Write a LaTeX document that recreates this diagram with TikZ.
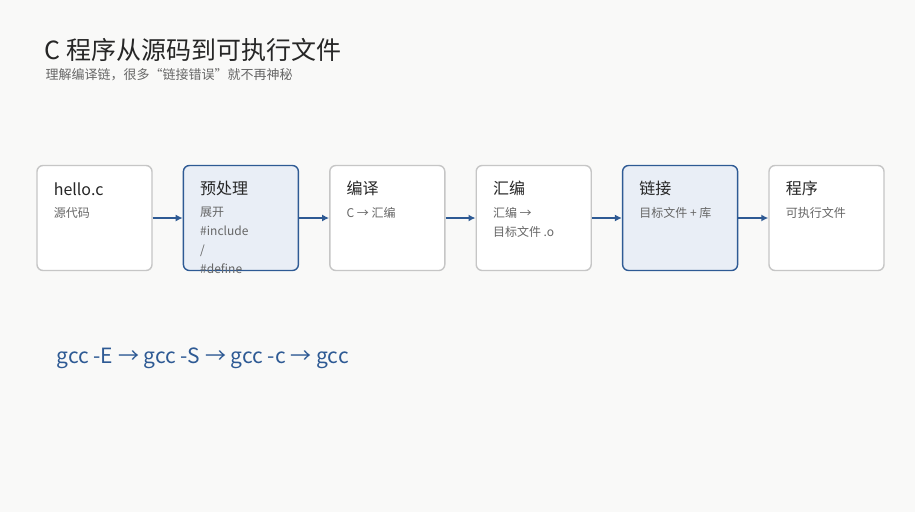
\documentclass[tikz,border=0pt]{standalone}
\usepackage{fontspec}
\setmainfont{Noto Sans CJK SC}
\usepackage{xcolor}
\usetikzlibrary{arrows.meta, positioning}
\definecolor{bgcol}{HTML}{F9F9F8}
\definecolor{linkblue}{HTML}{2E5A94}
\definecolor{hlfill}{HTML}{E9EEF6}
\definecolor{boxline}{HTML}{C6C6C6}
\definecolor{subgray}{HTML}{666666}
\tikzset{
  stage/.style={draw=boxline, line width=1.4pt, fill=white, rounded corners=6pt,
    minimum width=115pt, minimum height=105pt, inner sep=0pt},
  hot/.style={stage, draw=linkblue, fill=hlfill},
  head/.style={anchor=west, font=\fontsize{16}{18}\selectfont, text=black!85},
  note/.style={anchor=north west, font=\fontsize{12}{19}\selectfont, text=subgray, align=left},
  flow/.style={-{Latex[length=7pt,width=7pt]}, line width=2.2pt, draw=linkblue}
}
\begin{document}
\begin{tikzpicture}[x=1pt, y=-1pt]
	\fill[bgcol] (0,0) rectangle (915,512);
	\useasboundingbox (0,0) rectangle (915,512);

	\node[anchor=west, font=\fontsize{25}{28}\selectfont, text=black!85] (title) at (41,50) {C 程序从源码到可执行文件};
	\node[anchor=west, font=\fontsize{13}{15}\selectfont, text=subgray] (sub) at (42,75) {理解编译链，很多“链接错误”就不再神秘};

	% stages
	\node[stage] (s1) at (94.5,218) {};
	\node[hot, right=30pt of s1] (s2) {};
	\node[stage, right=30pt of s2] (s3) {};
	\node[stage, right=30pt of s3] (s4) {};
	\node[hot, right=30pt of s4] (s5) {};
	\node[stage, right=30pt of s5] (s6) {};

	\foreach \s/\h/\n in {s1/hello.c/源代码, s2/预处理/{展开\\\#include\\/\\\#define}, s3/编译/C → 汇编,
	                      s4/汇编/{汇编 →\\目标文件 .o}, s5/链接/目标文件 + 库, s6/程序/可执行文件} {
		\node[head] at ([xshift=14pt, yshift=-24pt]\s.north west) {\h};
		\node[note] at ([xshift=14pt, yshift=-39pt]\s.north west) {\n};
	}

	\foreach \a/\b in {s1/s2, s2/s3, s3/s4, s4/s5, s5/s6}
		\draw[flow] (\a.east) -- (\b.west);

	\node[anchor=west, font=\fontsize{21}{24}\selectfont, text=linkblue] (cmd) at (53,358) {gcc -E → gcc -S → gcc -c → gcc};
\end{tikzpicture}
\end{document}
